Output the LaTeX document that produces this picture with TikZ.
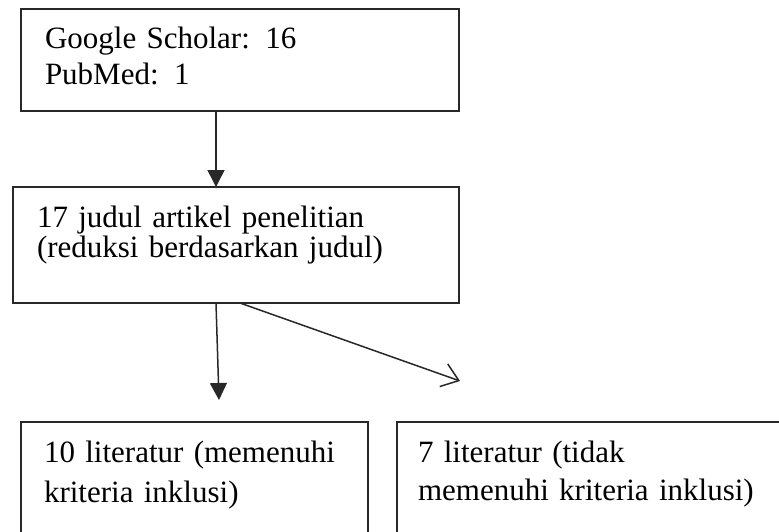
\documentclass[tikz,border=0pt]{standalone}
\usepackage{fontspec}
\setmainfont{Liberation Serif}
\usepackage{tikz}
\usetikzlibrary{arrows.meta}
\definecolor{boxline}{RGB}{40, 40, 40}

\begin{document}
\begin{tikzpicture}[x = 1pt, y = -1pt,
flowbox/.style = {draw = boxline, line width = 1.9pt, anchor = north west, outer sep = 0pt, align = left, inner xsep = 24pt, inner ysep = 0pt, text height = 40pt, font = \fontsize{31}{30}\selectfont},
flowarrow/.style = {draw = boxline, line width = 1.5pt, -{Triangle[length = 17pt, width = 17pt]}},
openarrow/.style = {draw = boxline, line width = 1.5pt, -{Straight Barb[length = 16pt, width = 24pt]}}]
\useasboundingbox (0,0) rectangle (779,532);
\clip (0,0) rectangle (779,532);
\node[flowbox, text width = 390pt, text depth = 62pt] (src) at (21,9) {Google Scholar: 16\\[6pt]PubMed: 1};
\node[flowbox, text width = 398pt, text depth = 76pt] (red) at (13,187) {17 judul artikel penelitian\\(reduksi berdasarkan judul)};
\node[flowbox, inner xsep = 23pt, text width = 301pt, text depth = 90pt] (inc) at (21,422) {10 literatur (memenuhi\\[10pt]kriteria inklusi)};
\node[flowbox, inner xsep = 21pt, text width = 400pt, text depth = 90pt] (exc) at (397,422) {7 literatur (tidak\\[8pt]memenuhi kriteria inklusi)};
\coordinate (incTip) at (219,400);
\coordinate (excTip) at (460,381);
\draw[flowarrow] ([xshift = 195pt]src.south west) -- ([xshift = 203pt]red.north west);
\draw[flowarrow] ([xshift = 203pt]red.south west) -- (incTip);
\draw[openarrow] ([xshift = 227pt]red.south west) -- (excTip);
\end{tikzpicture}
\end{document}
